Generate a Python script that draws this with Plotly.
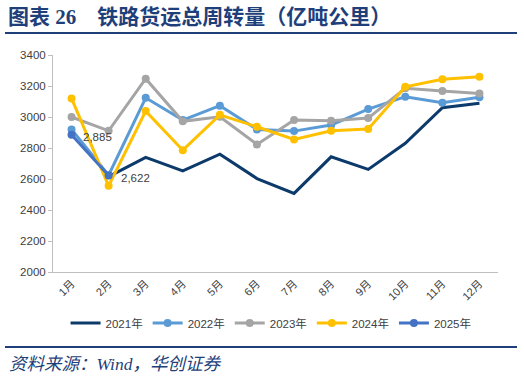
import plotly.graph_objects as go

months = ["1月", "2月", "3月", "4月", "5月", "6月", "7月", "8月", "9月", "10月", "11月", "12月"]
y2021 = [None, 2615, 2739, 2653, 2760, 2603, 2507, 2743, 2662, 2830, 3060, 3088]
y2022 = [2920, 2625, 3124, 2980, 3073, 2920, 2909, 2948, 3051, 3131, 3092, 3127]
y2023 = [3000, 2911, 3247, 2972, 3001, 2823, 2980, 2976, 2993, 3185, 3167, 3152]
y2024 = [3120, 2556, 3038, 2786, 3014, 2937, 2855, 2911, 2922, 3195, 3243, 3260]
y2025 = [2885, 2622]
yticks = [2000, 2200, 2400, 2600, 2800, 3000, 3200, 3400]

series = [
    ("2021年", y2021, "#0B3A6B", False),
    ("2022年", y2022, "#5B9BD5", True),
    ("2023年", y2023, "#A5A5A5", True),
    ("2024年", y2024, "#FFC000", True),
    ("2025年", y2025, "#4472C4", True),
]

fig = go.Figure()
for name, vals, color, mk in series:
    fig.add_trace(go.Scatter(
        x=months[:len(vals)], y=vals, name=name,
        mode="lines+markers" if mk else "lines",
        line=dict(color=color, width=3),
        marker=dict(color=color, size=8),
        connectgaps=False,
    ))

lblfont = dict(size=11.5, color="#404040", family="Liberation Sans, Arial")
fig.add_annotation(x=months[0], y=y2025[0], text=f"{y2025[0]:,}", showarrow=False,
                   xanchor="left", yanchor="middle", xshift=9, yshift=-2, font=lblfont)
fig.add_annotation(x=months[1], y=y2025[1], text=f"{y2025[1]:,}", showarrow=False,
                   xanchor="left", yanchor="middle", xshift=10, yshift=-2, font=lblfont)

L, R, T, B = 53, 26, 55, 110
W, H = 524, 382
pw, ph = W - L - R, H - T - B

def px(x):
    return (x - L) / pw

def py(y):
    return (H - B - y) / ph

navy = "#1F3F7A"
fig.add_annotation(xref="paper", yref="paper", x=px(6), y=py(17), xanchor="left", yanchor="middle",
                   text="<b>图表 26    铁路货运总周转量（亿吨公里）</b>", showarrow=False,
                   font=dict(size=21, color=navy, family="Liberation Serif, Noto Sans CJK SC"))
fig.add_shape(type="line", xref="paper", yref="paper", x0=px(5), x1=px(517), y0=py(33), y1=py(33),
              line=dict(color=navy, width=2))
fig.add_shape(type="line", xref="paper", yref="paper", x0=px(5), x1=px(517), y0=py(347), y1=py(347),
              line=dict(color=navy, width=2))
fig.add_annotation(xref="paper", yref="paper", x=px(7), y=py(364), xanchor="left", yanchor="middle",
                   text="<i>资料来源：Wind，华创证券</i>", showarrow=False,
                   font=dict(size=17.5, color=navy, family="Liberation Serif, Noto Sans CJK SC"))

fig.update_layout(
    width=W, height=H,
    margin=dict(l=L, r=R, t=T, b=B),
    paper_bgcolor="white", plot_bgcolor="white",
    font=dict(family="Liberation Sans, Noto Sans CJK SC", size=11, color="#404040"),
    legend=dict(orientation="h", x=0.49, xanchor="center", y=py(323), yanchor="middle",
                font=dict(size=11.5, color="#404040"), itemwidth=30, tracegroupgap=0,
                bgcolor="rgba(0,0,0,0)"),
    showlegend=True,
)
fig.update_xaxes(type="category", range=[-0.5, len(months) - 0.5], tickangle=-45, showline=True,
                 linecolor="#BFBFBF", linewidth=1,
                 showgrid=False, ticks="", tickfont=dict(size=11, color="#404040"))
fig.update_yaxes(range=[2000, 3400], tickvals=yticks, showline=True, linecolor="#BFBFBF", linewidth=1,
                 showgrid=False, zeroline=False, ticks="outside", ticklen=4, tickcolor="#BFBFBF",
                 tickfont=dict(size=11.5, color="#404040"))

fig.write_html("out.html", config={"displayModeBar": False},
               post_script="document.body.style.margin='0';document.body.style.padding='0';")
